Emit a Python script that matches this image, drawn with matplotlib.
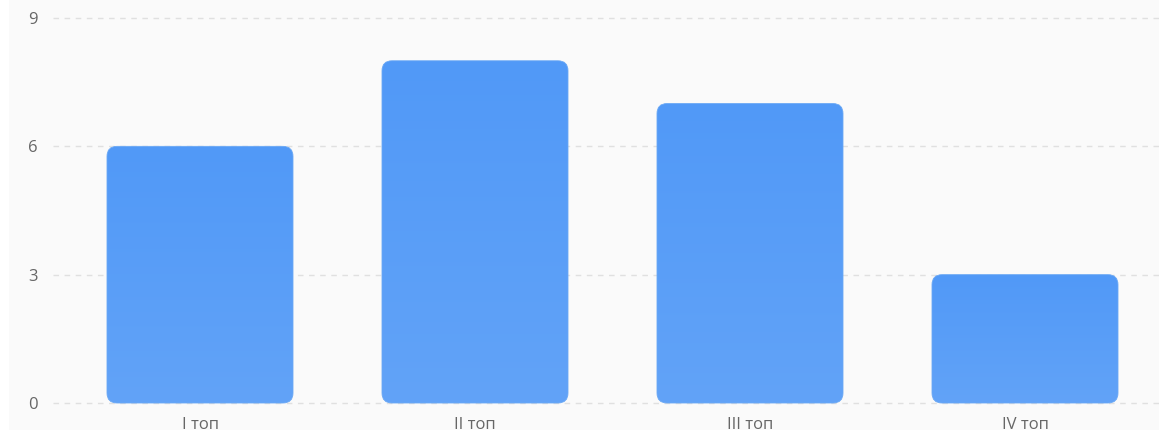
import numpy as np
import matplotlib.pyplot as plt
from matplotlib.patches import FancyBboxPatch, Rectangle

plt.rcParams["font.family"] = ["Open Sans", "DejaVu Sans"]

categories = ["I топ", "II топ", "III топ", "IV топ"]
values = [6, 8, 7, 3]
y_ticks = [0, 3, 6, 9]

W, H = 1159, 430
fig = plt.figure(figsize=(W / 100, H / 100), dpi=100, facecolor="#fafafa")

# white strip down the left edge
fig.patches.append(Rectangle((0, 0), 9 / W, 1, transform=fig.transFigure,
                             facecolor="white", edgecolor="none", zorder=0))

left, bottom = 53 / W, (H - 410) / H
ax = fig.add_axes([left, bottom, 1 - left, 1 - bottom])
ax.set_facecolor("#fafafa")

px_per_x = 275.0
px_per_y = 385 / 9

for s in ax.spines.values():
    s.set_visible(False)

ax.set_yticks(y_ticks)
ax.set_yticklabels([str(t) for t in y_ticks])
ax.set_xticks(range(len(categories)))
ax.set_xticklabels(categories)
ax.tick_params(axis="both", length=0, labelsize=12, colors="#666666")
ax.tick_params(axis="y", pad=11)
ax.tick_params(axis="x", pad=5)
ax.yaxis.grid(True, color="#e0e0e0", linestyle=(0, (4, 4)), linewidth=1)
ax.set_axisbelow(True)

bar_w = 186 / px_per_x
rad_x = 10 / px_per_x
aspect = (10 / px_per_y) / rad_x
grad = np.linspace(0, 1, 256).reshape(-1, 1)
top_col = np.array([0x51, 0x99, 0xf8]) / 255
bot_col = np.array([0x62, 0xa3, 0xf7]) / 255

for i, v in enumerate(values):
    x0 = i - bar_w / 2
    patch = FancyBboxPatch((x0, 0), bar_w, v,
                           boxstyle=f"round,pad=0,rounding_size={rad_x}",
                           mutation_aspect=aspect,
                           facecolor="none", edgecolor="#6aa8f5",
                           linewidth=0.6, zorder=3)
    ax.add_patch(patch)
    rgb = top_col + (bot_col - top_col) * grad[:, :, None]
    img = ax.imshow(rgb, extent=(x0, x0 + bar_w, 0, v), origin="upper",
                    aspect="auto", zorder=2, interpolation="bilinear")
    img.set_clip_path(patch)

ax.set_xlim(-147 / px_per_x, (W - 200) / px_per_x)
ax.set_ylim(-7 / px_per_y, 403 / px_per_y)

fig.savefig("out.png", dpi=100, facecolor=fig.get_facecolor())
